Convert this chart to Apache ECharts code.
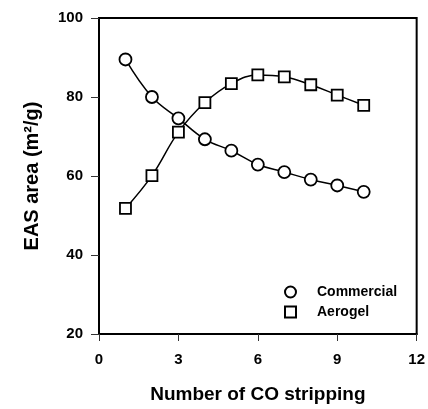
<!DOCTYPE html>
<html>
<head>
<meta charset="utf-8">
<script src="https://cdn.jsdelivr.net/npm/echarts@6/dist/echarts.min.js"></script>
<style>
  html, body { margin: 0; padding: 0; background: #fff; }
  #chart { width: 428px; height: 409px; }
</style>
</head>
<body>
<div id="chart"></div>
<script>
const strips = [1, 2, 3, 4, 5, 6, 7, 8, 9, 10]
const commercial = [89.5, 80.0, 74.6, 69.3, 66.4, 62.9, 61.0, 59.1, 57.6, 56.0]
const aerogel = [51.8, 60.1, 71.1, 78.6, 83.4, 85.6, 85.1, 83.1, 80.5, 77.9]
const xTicks = [0, 3, 6, 9, 12]
const yTicks = [20, 40, 60, 80, 100]

const font = 'Liberation Sans, Arial, sans-serif'
const chart = echarts.init(document.getElementById('chart'))

function pairs(ys) {
  return strips.map((x, i) => [x, ys[i]])
}

chart.setOption({
  animation: false,
  grid: {
    left: 99, top: 18, right: 11, bottom: 72,
    show: true, borderColor: '#000', borderWidth: 2
  },
  legend: {
    left: 284, top: 285, padding: 0,
    orient: 'vertical',
    itemWidth: 11, itemHeight: 11, itemGap: 6,
    textStyle: {
      fontFamily: font, fontWeight: 'bold', fontSize: 14, color: '#000',
      padding: [0, 0, 0, 16]
    },
    data: [
      { name: 'Commercial', icon: 'circle' },
      { name: 'Aerogel', icon: 'rect' }
    ]
  },
  xAxis: {
    type: 'value', min: xTicks[0], max: xTicks[xTicks.length - 1], interval: 3,
    name: 'Number of CO stripping', nameLocation: 'middle', nameGap: 51,
    nameTextStyle: { fontFamily: font, fontWeight: 'bold', fontSize: 19, color: '#000' },
    axisLine: { lineStyle: { color: '#000', width: 2 } },
    axisTick: { show: true, length: 7, lineStyle: { color: '#333', width: 1 } },
    axisLabel: { fontFamily: font, fontWeight: 'bold', fontSize: 15, color: '#000', margin: 18 },
    splitLine: { show: false }
  },
  yAxis: {
    type: 'value', min: yTicks[0], max: yTicks[yTicks.length - 1], interval: 20,
    name: 'EAS area (m²/g)', nameLocation: 'middle', nameGap: 57,
    nameTextStyle: { fontFamily: font, fontWeight: 'bold', fontSize: 20, color: '#000' },
    axisLine: { show: true, lineStyle: { color: '#000', width: 2 } },
    axisTick: { show: true, length: 8, lineStyle: { color: '#333', width: 1 } },
    axisLabel: { fontFamily: font, fontWeight: 'bold', fontSize: 15, color: '#000', margin: 16 },
    splitLine: { show: false }
  },
  series: [
    {
      name: 'Commercial', type: 'line', smooth: 0.4,
      data: pairs(commercial),
      symbol: 'circle', symbolSize: 12,
      lineStyle: { color: '#000', width: 1.5 },
      itemStyle: { color: '#fff', borderColor: '#000', borderWidth: 1.8 }
    },
    {
      name: 'Aerogel', type: 'line', smooth: 0.4,
      data: pairs(aerogel),
      symbol: 'rect', symbolSize: 11,
      lineStyle: { color: '#000', width: 1.5 },
      itemStyle: { color: '#fff', borderColor: '#000', borderWidth: 1.8 }
    }
  ]
})
</script>
</body>
</html>
